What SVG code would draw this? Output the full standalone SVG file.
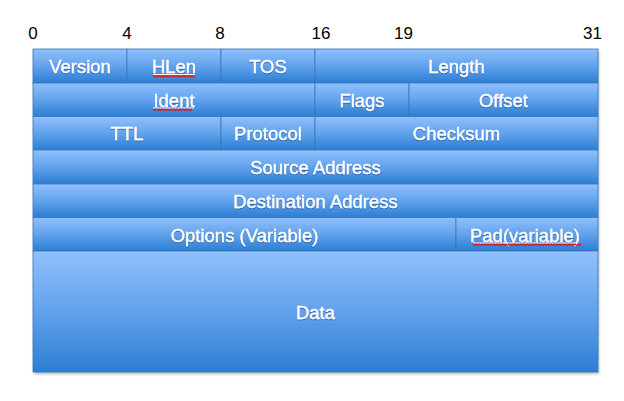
<svg xmlns="http://www.w3.org/2000/svg" width="624" height="401" viewBox="0 0 624 401">
<defs>
<linearGradient id="g" x1="0" y1="0" x2="0" y2="1">
<stop offset="0" stop-color="#91c0fd"/>
<stop offset="0.5" stop-color="#62a2ec"/>
<stop offset="1" stop-color="#2b7ed4"/>
</linearGradient>
<filter id="sh" x="-5%" y="-5%" width="110%" height="115%">
<feDropShadow dx="1" dy="2" stdDeviation="1.5" flood-color="#000" flood-opacity="0.3"/>
</filter>
<filter id="ts" x="-10%" y="-30%" width="120%" height="160%">
<feDropShadow dx="0" dy="1" stdDeviation="0.7" flood-color="#0a3a78" flood-opacity="0.6"/>
</filter>
</defs>
<style>
.c{fill:url(#g);stroke:#3a78b6;stroke-width:0.8}
.t{font-family:"Liberation Sans",Arial,sans-serif;font-size:18.5px;fill:#fff;stroke:#fff;stroke-width:0.35;text-anchor:middle;filter:url(#ts)}
.n{font-family:"Liberation Sans",Arial,sans-serif;font-size:17px;fill:#000;text-anchor:middle}
.u{stroke:#fff;stroke-width:1}
.w{stroke:#e0141e;stroke-width:1.2;fill:none}
</style>
<g id="bit-labels">
<text class="n" x="33" y="39">0</text>
<text class="n" x="127" y="39">4</text>
<text class="n" x="220" y="39">8</text>
<text class="n" x="321" y="39">16</text>
<text class="n" x="403.5" y="39">19</text>
<text class="n" x="592.5" y="39">31</text>
</g>
<rect x="33" y="49" width="565" height="323" fill="#2d80d5" filter="url(#sh)"/>
<g id="version"><rect class="c" x="33" y="49" width="94" height="34"/><text class="t" x="80" y="73">Version</text></g>
<g id="hlen"><rect class="c" x="127" y="49" width="94" height="34"/><text class="t" x="174" y="73">HLen</text>
<line class="u" x1="153" y1="74.5" x2="195" y2="74.5"/>
<path class="w" d="M153,75.5 l1.5,1.5 l1.5,-1.5 l1.5,1.5 l1.5,-1.5 l1.5,1.5 l1.5,-1.5 l1.5,1.5 l1.5,-1.5 l1.5,1.5 l1.5,-1.5 l1.5,1.5 l1.5,-1.5 l1.5,1.5 l1.5,-1.5 l1.5,1.5 l1.5,-1.5 l1.5,1.5 l1.5,-1.5 l1.5,1.5 l1.5,-1.5 l1.5,1.5 l1.5,-1.5 l1.5,1.5 l1.5,-1.5 l1.5,1.5 l1.5,-1.5 l1.5,1.5 l1.5,-1.5"/></g>
<g id="tos"><rect class="c" x="221" y="49" width="94" height="34"/><text class="t" x="268" y="73">TOS</text></g>
<g id="length"><rect class="c" x="315" y="49" width="283" height="34"/><text class="t" x="456.5" y="73">Length</text></g>
<g id="ident"><rect class="c" x="33" y="83" width="282" height="33.5"/><text class="t" x="174" y="106.5">Ident</text>
<line class="u" x1="153" y1="108" x2="194" y2="108"/>
<path class="w" d="M153,109 l1.5,1.5 l1.5,-1.5 l1.5,1.5 l1.5,-1.5 l1.5,1.5 l1.5,-1.5 l1.5,1.5 l1.5,-1.5 l1.5,1.5 l1.5,-1.5 l1.5,1.5 l1.5,-1.5 l1.5,1.5 l1.5,-1.5 l1.5,1.5 l1.5,-1.5 l1.5,1.5 l1.5,-1.5 l1.5,1.5 l1.5,-1.5 l1.5,1.5 l1.5,-1.5 l1.5,1.5 l1.5,-1.5 l1.5,1.5 l1.5,-1.5"/></g>
<g id="flags"><rect class="c" x="315" y="83" width="94" height="33.5"/><text class="t" x="362" y="106.5">Flags</text></g>
<g id="offset"><rect class="c" x="409" y="83" width="189" height="33.5"/><text class="t" x="503.5" y="106.5">Offset</text></g>
<g id="ttl"><rect class="c" x="33" y="116.5" width="188" height="33.5"/><text class="t" x="127" y="140">TTL</text></g>
<g id="protocol"><rect class="c" x="221" y="116.5" width="94" height="33.5"/><text class="t" x="268" y="140">Protocol</text></g>
<g id="checksum"><rect class="c" x="315" y="116.5" width="283" height="33.5"/><text class="t" x="456.5" y="140">Checksum</text></g>
<g id="source-address"><rect class="c" x="33" y="150" width="565" height="34"/><text class="t" x="315.5" y="174">Source Address</text></g>
<g id="destination-address"><rect class="c" x="33" y="184" width="565" height="33.5"/><text class="t" x="315.5" y="208">Destination Address</text></g>
<g id="options"><rect class="c" x="33" y="217.5" width="423" height="33.5"/><text class="t" x="244.5" y="241.5">Options (Variable)</text></g>
<g id="pad"><rect class="c" x="456" y="217.5" width="142" height="33.5"/><text class="t" x="525" y="241.5">Pad(variable)</text>
<line class="u" x1="473" y1="243" x2="577" y2="243"/>
<path class="w" d="M473,244 l1.5,1.5 l1.5,-1.5 l1.5,1.5 l1.5,-1.5 l1.5,1.5 l1.5,-1.5 l1.5,1.5 l1.5,-1.5 l1.5,1.5 l1.5,-1.5 l1.5,1.5 l1.5,-1.5 l1.5,1.5 l1.5,-1.5 l1.5,1.5 l1.5,-1.5 l1.5,1.5 l1.5,-1.5 l1.5,1.5 l1.5,-1.5 l1.5,1.5 l1.5,-1.5 l1.5,1.5 l1.5,-1.5 l1.5,1.5 l1.5,-1.5 l1.5,1.5 l1.5,-1.5 l1.5,1.5 l1.5,-1.5 l1.5,1.5 l1.5,-1.5 l1.5,1.5 l1.5,-1.5 l1.5,1.5 l1.5,-1.5 l1.5,1.5 l1.5,-1.5 l1.5,1.5 l1.5,-1.5 l1.5,1.5 l1.5,-1.5 l1.5,1.5 l1.5,-1.5 l1.5,1.5 l1.5,-1.5 l1.5,1.5 l1.5,-1.5 l1.5,1.5 l1.5,-1.5 l1.5,1.5 l1.5,-1.5 l1.5,1.5 l1.5,-1.5 l1.5,1.5 l1.5,-1.5 l1.5,1.5 l1.5,-1.5 l1.5,1.5 l1.5,-1.5 l1.5,1.5 l1.5,-1.5 l1.5,1.5 l1.5,-1.5 l1.5,1.5 l1.5,-1.5 l1.5,1.5 l1.5,-1.5 l1.5,1.5 l1.5,-1.5 l1.5,1.5 l1.5,-1.5"/></g>
<g id="data"><rect class="c" x="33" y="251" width="565" height="121"/><text class="t" x="315.5" y="318.5">Data</text></g>
</svg>
